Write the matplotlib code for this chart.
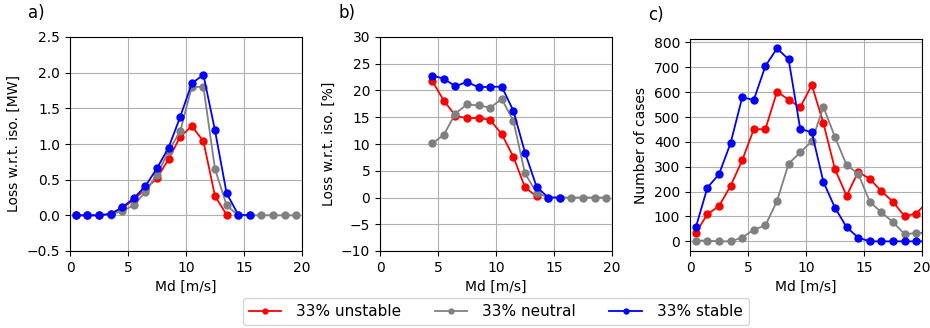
import matplotlib
matplotlib.use("Agg")
import matplotlib.pyplot as plt
import numpy as np

labels = ["33% unstable", "33% neutral", "33% stable"]
colors = ["red", "gray", "blue"]

# Panel a: loss [MW]
a_x_unst = [0.5, 1.5, 2.5, 3.5, 4.5, 5.5, 6.5, 7.5, 8.5, 9.5, 10.5, 11.5, 12.5, 13.5]
a_unst = [0, 0, 0, 0.02, 0.10, 0.22, 0.37, 0.52, 0.79, 1.10, 1.25, 1.04, 0.27, 0.01]
a_x_neut = [0.5, 1.5, 2.5, 3.5, 4.5, 5.5, 6.5, 7.5, 8.5, 9.5, 10.5, 11.5, 12.5, 13.5, 14.5, 15.5, 16.5, 17.5, 18.5, 19.5]
a_neut = [0, 0, 0, 0.01, 0.06, 0.14, 0.33, 0.57, 0.90, 1.18, 1.80, 1.80, 0.65, 0.14, 0.0, 0, 0, 0, 0, 0]
a_x_stab = [0.5, 1.5, 2.5, 3.5, 4.5, 5.5, 6.5, 7.5, 8.5, 9.5, 10.5, 11.5, 12.5, 13.5, 14.5, 15.5]
a_stab = [0, 0, 0, 0.02, 0.11, 0.24, 0.41, 0.66, 0.95, 1.38, 1.85, 1.97, 1.19, 0.31, 0.01, 0.0]

# Panel b: loss [%]
b_x_unst = [4.5, 5.5, 6.5, 7.5, 8.5, 9.5, 10.5, 11.5, 12.5, 13.5]
b_unst = [21.8, 18.1, 15.3, 14.8, 14.9, 14.5, 11.8, 7.6, 1.9, 0.2]
b_x_neut = [4.5, 5.5, 6.5, 7.5, 8.5, 9.5, 10.5, 11.5, 12.5, 13.5, 14.5, 15.5, 16.5, 17.5, 18.5, 19.5]
b_neut = [10.1, 11.7, 15.7, 17.4, 17.2, 16.8, 18.4, 14.3, 4.5, 0.9, 0, 0, 0, 0, 0, 0]
b_x_stab = [4.5, 5.5, 6.5, 7.5, 8.5, 9.5, 10.5, 11.5, 12.5, 13.5, 14.5, 15.5]
b_stab = [22.8, 22.2, 20.8, 21.6, 20.6, 20.7, 20.7, 16.2, 8.4, 2.0, 0, 0]

# Panel c: number of cases
c_x = [0.5, 1.5, 2.5, 3.5, 4.5, 5.5, 6.5, 7.5, 8.5, 9.5, 10.5, 11.5, 12.5, 13.5, 14.5, 15.5, 16.5, 17.5, 18.5, 19.5, 20.5]
c_unst = [35, 109, 142, 223, 326, 451, 451, 602, 570, 539, 629, 475, 290, 183, 280, 251, 202, 159, 101, 112, 160]
c_neut = [3, 3, 0, 0, 15, 47, 64, 162, 312, 358, 402, 541, 419, 307, 272, 159, 117, 77, 29, 33, 35]
c_stab = [56, 216, 270, 395, 579, 569, 705, 776, 732, 453, 438, 239, 135, 57, 15, 0, 0, 0, 0, 0, 0]

fig = plt.figure(figsize=(9.3, 3.28), dpi=100)
W, H = 930, 328
def ax_at(l, r, t, b):
    return fig.add_axes([l / W, 1 - b / H, (r - l) / W, (b - t) / H])

axa = ax_at(70, 302, 37, 251)
axb = ax_at(380, 612, 37, 251)
axc = ax_at(690, 922, 39, 251)

kw = dict(marker="o", markersize=5, linewidth=1.3)
handles = []
for xs, ys, c in [(a_x_unst, a_unst, colors[0]), (a_x_neut, a_neut, colors[1]), (a_x_stab, a_stab, colors[2])]:
    axa.plot(xs, ys, color=c, **kw)
for xs, ys, c in [(b_x_unst, b_unst, colors[0]), (b_x_neut, b_neut, colors[1]), (b_x_stab, b_stab, colors[2])]:
    axb.plot(xs, ys, color=c, **kw)
for ys, c, lab in [(c_unst, colors[0], labels[0]), (c_neut, colors[1], labels[1]), (c_stab, colors[2], labels[2])]:
    h, = axc.plot(c_x, ys, color=c, label=lab, **kw)
    handles.append(h)

axa.set_ylim(-0.5, 2.5)
axa.set_yticks(np.arange(-0.5, 2.51, 0.5))
axa.set_ylabel("Loss w.r.t. iso. [MW]")
axb.set_ylim(-10, 30)
axb.set_yticks(np.arange(-10, 31, 5))
axb.set_ylabel("Loss w.r.t. iso. [%]")
axc.set_ylim(-38.8, 813.8)
axc.set_yticks(np.arange(0, 801, 100))
axc.set_ylabel("Number of cases")

for ax, lab in [(axa, "a)"), (axb, "b)"), (axc, "c)")]:
    ax.set_xlim(0, 20)
    ax.set_xticks([0, 5, 10, 15, 20])
    ax.set_xlabel("Md [m/s]")
    ax.grid(True, color="#b0b0b0", linewidth=0.8)
    ax.tick_params(labelsize=10)
    ax.text(-0.18, 1.07, lab, transform=ax.transAxes, fontsize=12, va="bottom")

fig.legend(handles=handles, labels=labels, loc="lower center", ncol=3,
           bbox_to_anchor=(0.533, -0.015), fontsize=11, markerscale=0.7,
           columnspacing=2.2, handlelength=2.1, handletextpad=1.0)

fig.savefig("out.png", dpi=100)
